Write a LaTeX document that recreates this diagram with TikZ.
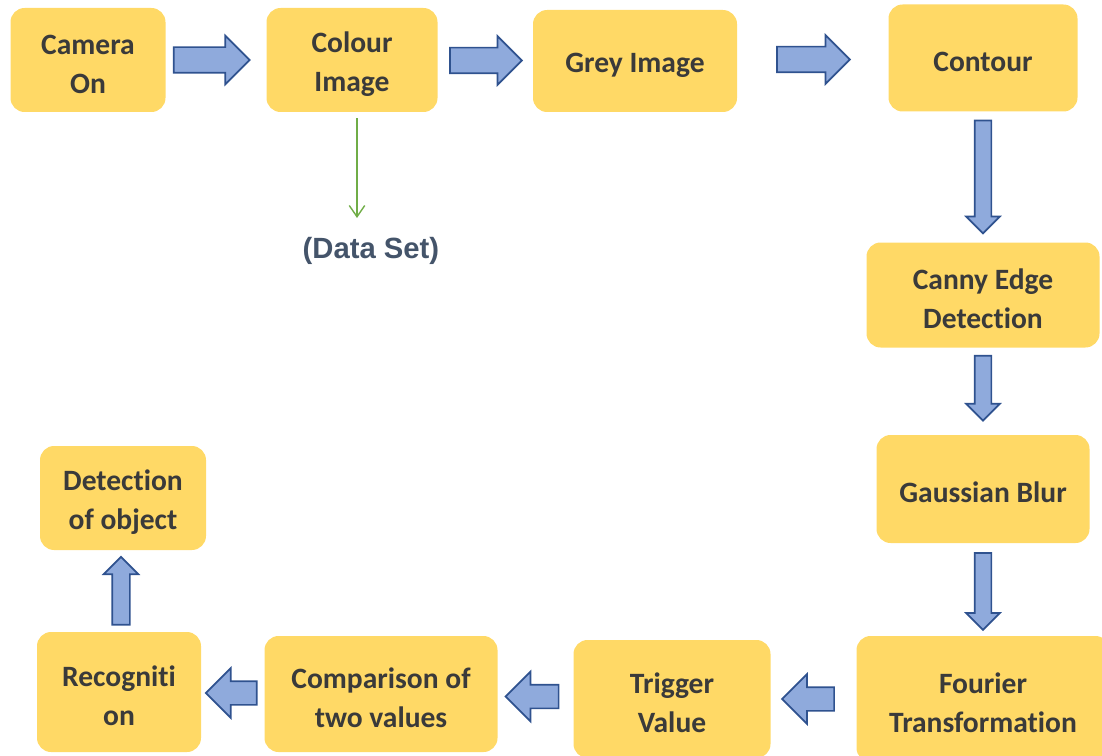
\documentclass[tikz,border=0pt]{standalone}
\usepackage{fontspec}
\setmainfont{Carlito}[Ligatures=NoCommon]
\newfontfamily\labelfont{Liberation Sans}
\usetikzlibrary{arrows.meta,positioning,calc,shapes.arrows}

\definecolor{boxyellow}{HTML}{FFD966}
\definecolor{arrowblue}{HTML}{8FAADC}
\definecolor{arrowedge}{HTML}{2F528F}
\definecolor{textgrey}{HTML}{3A3A3A}
\definecolor{labelslate}{HTML}{44546A}
\definecolor{linegreen}{HTML}{70AD47}

\begin{document}
\begin{tikzpicture}[x=0.025cm,y=-0.025cm,
 every node/.style={font=\bfseries\fontsize{21}{27.7}\selectfont},
 box/.style={fill=boxyellow,rounded corners=10pt,text=textgrey,align=flush center,inner sep=0pt,
   execute at begin node={\rule{0pt}{20pt}}},
 boxsize/.style 2 args={minimum width=#1*0.025cm,text width=#1*0.025cm,minimum height=#2*0.025cm},
 % length, shaft width, head width, direction
 barrow/.style n args={4}{single arrow,draw=arrowedge,fill=arrowblue,line width=1.2pt,
   inner xsep=0pt,inner ysep=#2*0.0125cm,minimum height=#1*0.025cm,
   single arrow head extend=(#3-#2)*0.0125cm,single arrow tip angle=90,
   rotate=#4,xshift=-(#3-#2)*0.00625cm},
 dataline/.style={linegreen,line width=1pt,-{Straight Barb[length=8pt,width=11pt]}}]
\useasboundingbox (0,0) rectangle (1102,755);

% top row
\node[box,boxsize={155}{104}] (cam) at (88,60) {Camera\\On};
\node[box,boxsize={171}{104}] (colour) at (352,60) {Colour\\Image};
\node[box,boxsize={204}{102}] (grey) at (635,61) {Grey Image};
\node[box,boxsize={189}{107}] (contour) at (983,58) {Contour};

% right column
\node[box,boxsize={233}{105}] (canny) at (983,295) {Canny Edge\\Detection};
\node[box,boxsize={213}{108}] (gauss) at (983,489) {Gaussian Blur};
\node[box,boxsize={253}{126}] (fourier) at (983,699) {Fourier\\Transformation};

% bottom row
\node[box,boxsize={197}{118}] (trigger) at (672,699) {Trigger\\Value};
\node[box,boxsize={233}{116}] (compare) at (381,694) {Comparison of\\two values};
\node[box,boxsize={164}{120}] (recog) at (119,692) {Recogniti\\on};
\node[box,boxsize={166}{104}] (detect) at (123,498) {Detection\\of object};

% block arrows between the steps
\node[barrow={76}{24}{47}{0}] at ($(cam.east)!0.5!(colour.west)+(-5,0)$) {};
\node[barrow={72}{24}{47}{0}] at ($(colour.east)!0.5!(grey.west)$) {};
\node[barrow={73}{24}{47}{0}] at ($(grey.east)!0.5!(contour.west)$) {};
\node[barrow={113}{15}{32}{-90}] at ($(contour.south)!0.5!(canny.north)$) {};
\node[barrow={65}{15}{32}{-90}] at ($(canny.south)!0.5!(gauss.north)+(0,-3)$) {};
\node[barrow={77}{15}{32}{-90}] at ($(gauss.south)!0.5!(fourier.north)+(0,2)$) {};
\node[barrow={52}{22}{48}{180}] at ($(fourier.west)!0.5!(trigger.east)+(-6,0)$) {};
\node[barrow={53}{22}{48}{180}] at ($(trigger.west)!0.5!(compare.east)+(-4,0)$) {};
\node[barrow={51}{22}{48}{180}] at ($(compare.west)!0.5!(recog.east)+(-2,0)$) {};
\node[barrow={68}{16}{33}{90}] at ($(recog.north)!0.5!(detect.south)$) {};

% data set branch
\coordinate (dsend) at (357,218);
\node[text=labelslate,font=\labelfont\bfseries\fontsize{20.8}{25}\selectfont] (dataset) at (371,251) {(Data Set)};
\draw[dataline] (colour.south -| dsend) ++(0,6) -- (dsend);
\end{tikzpicture}
\end{document}
